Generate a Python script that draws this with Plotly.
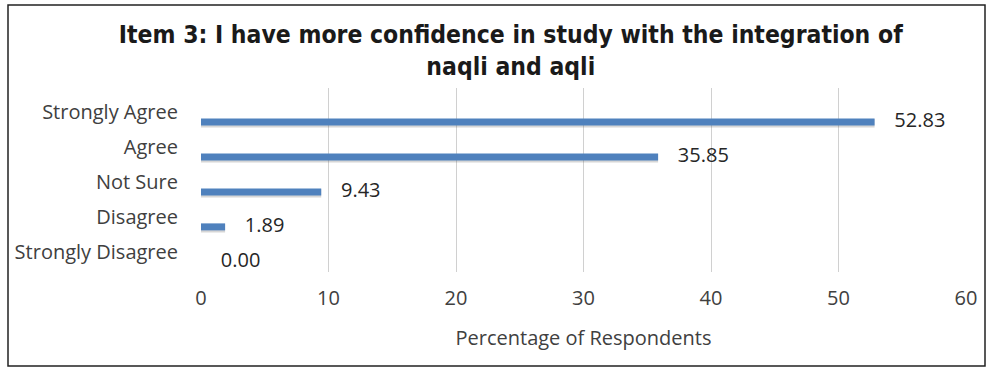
import plotly.graph_objects as go

categories = ["Strongly Disagree", "Disagree", "Not Sure", "Agree", "Strongly Agree"]
percentages = [0.00, 1.89, 9.43, 35.85, 52.83]
x_ticks = [0, 10, 20, 30, 40, 50, 60]

W, H = 988, 368
L, R, T, B = 201, 22, 88, 96

BODY_FONT = "Open Sans"
BODY_SIZE = 20

fig = go.Figure()

# soft drop shadow under each bar
fig.add_trace(go.Bar(
    y=categories, x=percentages, orientation="h",
    marker=dict(color="rgba(90,90,90,0.25)", line=dict(width=0)),
    width=0.24, offset=-0.16, hoverinfo="skip", showlegend=False,
))
fig.add_trace(go.Bar(
    y=categories, x=percentages, orientation="h",
    marker=dict(color="#4F81BD", line=dict(width=0)),
    width=0.2, offset=-0.1, showlegend=False,
))
# value labels to the right of each bar end
fig.add_trace(go.Scatter(
    y=categories, x=percentages, mode="markers+text",
    marker=dict(size=30, opacity=0),
    text=[f"{v:.2f}" for v in percentages],
    textposition="middle right", cliponaxis=False,
    textfont=dict(family=BODY_FONT, size=BODY_SIZE, color="#262626"),
    hoverinfo="skip", showlegend=False,
))

fig.update_layout(
    width=W, height=H,
    margin=dict(l=L, r=R, t=T, b=B),
    paper_bgcolor="white", plot_bgcolor="white",
    barmode="overlay",
    title=dict(
        text="<b>Item 3: I have more confidence in study with the integration of<br>naqli and aqli</b>",
        x=0.517, xanchor="center", y=0.884, yanchor="top",
        font=dict(family="DejaVu Sans Condensed", size=24.5, color="#1a1a1a"),
    ),
    xaxis=dict(
        range=[0, 60], tickvals=x_ticks, showgrid=True, gridcolor="#d0d0d0", gridwidth=1,
        zeroline=False, showline=False, ticks="", ticklabelstandoff=12,
        tickfont=dict(family=BODY_FONT, size=BODY_SIZE, color="#404040"),
        title=dict(text="Percentage of Respondents", standoff=20,
                   font=dict(family=BODY_FONT, size=BODY_SIZE, color="#404040")),
    ),
    yaxis=dict(
        type="category", categoryorder="array", categoryarray=categories,
        range=[-0.29, 4.97], showgrid=False, zeroline=False, showline=False, ticks="",
        ticklabelshift=-10, ticklabelstandoff=22,
        tickfont=dict(family=BODY_FONT, size=BODY_SIZE, color="#404040"),
    ),
    shapes=[dict(
        type="rect", xref="paper", yref="paper",
        x0=(8 - L) / (W - L - R), x1=(985 - L) / (W - L - R),
        y0=-(366 - (H - B)) / (H - T - B), y1=1 + (T - 5) / (H - T - B),
        line=dict(color="#222", width=1.5), fillcolor="rgba(0,0,0,0)", layer="below",
    )],
)

fig.write_html("out.html")
